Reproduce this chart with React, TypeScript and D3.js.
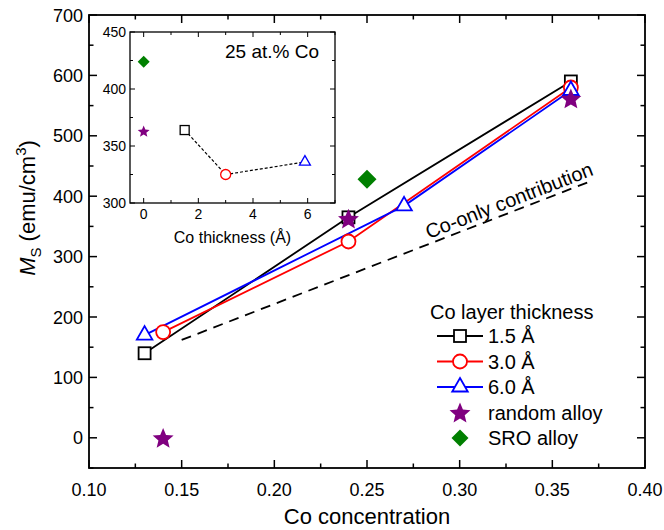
import React from "react";
import * as d3 from "d3";

// ---- data ----
const conc15 = [0.13, 0.24, 0.36];
const ms15 = [140, 365, 590];
const conc30 = [0.14, 0.24, 0.36];
const ms30 = [175, 325, 580];
const conc60 = [0.13, 0.27, 0.36];
const ms60 = [170, 384, 575];
const randomConc = [0.14, 0.24, 0.36];
const randomMs = [0, 363, 562];
const sroConc = [0.25];
const sroMs = [428];
const coOnlyConc = [0.15, 0.37];
const coOnlyMs = [162, 424];

const insetThick = [1.5, 3.0, 5.9];
const insetMs = [364, 325, 336];
const insetRandomThick = [0];
const insetRandomMs = [363];
const insetSroThick = [0];
const insetSroMs = [424];

const xTicks = [0.1, 0.15, 0.2, 0.25, 0.3, 0.35, 0.4];
const yTicks = [0, 100, 200, 300, 400, 500, 600, 700];
const insetXTicks = [0, 2, 4, 6];
const insetYTicks = [300, 350, 400, 450];

const legendLabels = ["1.5 Å", "3.0 Å", "6.0 Å", "random alloy", "SRO alloy"];

const FONT = "'Liberation Sans', Arial, sans-serif";

function starPath(R: number) {
  const r = R * 0.45;
  const pts: [number, number][] = [];
  for (let i = 0; i < 10; i++) {
    const a = -Math.PI / 2 + (i * Math.PI) / 5;
    const rad = i % 2 === 0 ? R : r;
    pts.push([rad * Math.cos(a), rad * Math.sin(a)]);
  }
  return "M" + pts.map((p) => p[0].toFixed(2) + "," + p[1].toFixed(2)).join("L") + "Z";
}
function triPath(w: number, h: number) {
  return `M0,${(-2 * h) / 3}L${w / 2},${h / 3}L${-w / 2},${h / 3}Z`;
}
function diamondPath(w: number, h: number) {
  return `M0,${-h / 2}L${w / 2},0L0,${h / 2}L${-w / 2},0Z`;
}

type MarkerKind = "square" | "circle" | "triangle" | "star" | "diamond";
function Marker({ kind, x, y, s, color, sw }: { kind: MarkerKind; x: number; y: number; s: number; color: string; sw: number }) {
  if (kind === "square")
    return <rect x={x - s / 2} y={y - s / 2} width={s} height={s} fill="white" stroke={color} strokeWidth={sw} />;
  if (kind === "circle") return <circle cx={x} cy={y} r={s / 2} fill="white" stroke={color} strokeWidth={sw} />;
  if (kind === "triangle")
    return <path d={triPath(s * 1.15, s)} transform={`translate(${x},${y})`} fill="white" stroke={color} strokeWidth={sw} />;
  if (kind === "star") return <path d={starPath(s / 2)} transform={`translate(${x},${y + s * 0.05})`} fill={color} />;
  return <path d={diamondPath(s, s)} transform={`translate(${x},${y})`} fill={color} />;
}

export default function App() {
  const W = 664, H = 530;
  const x = d3.scaleLinear().domain([0.1, 0.4]).range([89, 645]);
  const y = d3.scaleLinear().domain([-50, 700]).range([468, 15]);
  const ix = d3.scaleLinear().domain([-0.5, 7]).range([130, 335]);
  const iy = d3.scaleLinear().domain([300, 450]).range([203, 32]);

  const line = d3.line<[number, number]>().x((d) => x(d[0])).y((d) => y(d[1]));
  const iline = d3.line<[number, number]>().x((d) => ix(d[0])).y((d) => iy(d[1]));

  const series = [
    { c: conc15, m: ms15, color: "#000000", kind: "square" as MarkerKind, s: 12 },
    { c: conc30, m: ms30, color: "#ff0000", kind: "circle" as MarkerKind, s: 14 },
    { c: conc60, m: ms60, color: "#0000ff", kind: "triangle" as MarkerKind, s: 13.5 },
  ];

  const xMinor = d3.range(0.1, 0.4001, 0.025);
  const yMinor = d3.range(-50, 700.1, 50);
  const [x0, x1] = x.range();
  const [y0, y1] = y.range();

  const iXMinor = d3.range(0, 7.01, 1);
  const iYMinor = d3.range(300, 450.1, 25);
  const [ix0, ix1] = ix.range();
  const [iy0, iy1] = iy.range();

  const coPts = coOnlyConc.map((c, i) => [c, coOnlyMs[i]] as [number, number]);
  const angle = (Math.atan2(y(coOnlyMs[1]) - y(coOnlyMs[0]), x(coOnlyConc[1]) - x(coOnlyConc[0])) * 180) / Math.PI;

  const legX = 437, legY0 = 336, legDy = 25.5;
  const legKinds: MarkerKind[] = ["square", "circle", "triangle", "star", "diamond"];
  const legColors = ["#000000", "#ff0000", "#0000ff", "#800080", "#008000"];
  const legSizes = [12, 14, 13.5, 22, 17];

  return (
    <svg width={W} height={H} style={{ position: "absolute", left: 0, top: 0, background: "white" }} fontFamily={FONT}>
      <rect width={W} height={H} fill="white" />
      {/* main ticks */}
      <g stroke="black" strokeWidth={1.5}>
        {xMinor.map((t, i) => {
          const major = i % 2 === 0;
          const L = major ? 8 : 4.5;
          return (
            <g key={"xt" + i}>
              <line x1={x(t)} x2={x(t)} y1={y0} y2={y0 - L} />
              <line x1={x(t)} x2={x(t)} y1={y1} y2={y1 + L} />
            </g>
          );
        })}
        {yMinor.map((t, i) => {
          const major = t % 100 === 0;
          const L = major ? 8 : 4.5;
          return (
            <g key={"yt" + i}>
              <line x1={x0} x2={x0 + L} y1={y(t)} y2={y(t)} />
              <line x1={x1} x2={x1 - L} y1={y(t)} y2={y(t)} />
            </g>
          );
        })}
      </g>
      <rect x={x0} y={y1} width={x1 - x0} height={y0 - y1} fill="none" stroke="black" strokeWidth={1.8} />
      {xTicks.map((t) => (
        <text key={"xl" + t} x={x(t)} y={y0 + 28} textAnchor="middle" fontSize={18}>
          {d3.format(".2f")(t)}
        </text>
      ))}
      {yTicks.map((t) => (
        <text key={"yl" + t} x={x0 - 6} y={y(t) + 6.5} textAnchor="end" fontSize={18}>
          {t}
        </text>
      ))}
      <text x={(x0 + x1) / 2} y={524} textAnchor="middle" fontSize={22}>
        Co concentration
      </text>
      <text transform="translate(35,208) rotate(-90)" textAnchor="middle" fontSize={22}>
        <tspan fontStyle="italic">M</tspan>
        <tspan fontSize={15} dy={6}>S</tspan>
        <tspan dy={-6}> (emu/cm</tspan>
        <tspan fontSize={15} dy={-9}>3</tspan>
        <tspan dy={9}>)</tspan>
      </text>

      {/* Co-only dashed line */}
      <path d={line(coPts) || ""} fill="none" stroke="black" strokeWidth={1.8} strokeDasharray="10,7" />
      <text
        transform={`translate(${x(0.328)},${y(374) - 5}) rotate(${angle})`}
        textAnchor="middle"
        fontSize={20}
      >
        Co-only contribution
      </text>

      {/* series lines */}
      {series.map((s, k) => (
        <path
          key={"l" + k}
          d={line(s.c.map((c, i) => [c, s.m[i]] as [number, number])) || ""}
          fill="none"
          stroke={s.color}
          strokeWidth={1.8}
        />
      ))}
      {series.map((s, k) =>
        s.c.map((c, i) => (
          <Marker key={"m" + k + i} kind={s.kind} x={x(c)} y={y(s.m[i])} s={s.s} color={s.color} sw={1.8} />
        ))
      )}
      {randomConc.map((c, i) => (
        <Marker key={"r" + i} kind="star" x={x(c)} y={y(randomMs[i])} s={22} color="#800080" sw={0} />
      ))}
      {sroConc.map((c, i) => (
        <Marker key={"s" + i} kind="diamond" x={x(c)} y={y(sroMs[i])} s={19} color="#008000" sw={0} />
      ))}

      {/* legend */}
      <text x={430} y={319} fontSize={20}>
        Co layer thickness
      </text>
      {legLabelsRender()}

      {/* inset */}
      <rect x={ix0} y={iy1} width={ix1 - ix0} height={iy0 - iy1} fill="white" />
      <g stroke="black" strokeWidth={1}>
        {iXMinor.map((t, i) => {
          const L = t % 2 === 0 ? 5 : 3;
          return (
            <g key={"ixt" + i}>
              <line x1={ix(t)} x2={ix(t)} y1={iy0} y2={iy0 - L} />
              <line x1={ix(t)} x2={ix(t)} y1={iy1} y2={iy1 + L} />
            </g>
          );
        })}
        {iYMinor.map((t, i) => {
          const L = t % 50 === 0 ? 5 : 3;
          return (
            <g key={"iyt" + i}>
              <line x1={ix0} x2={ix0 + L} y1={iy(t)} y2={iy(t)} />
              <line x1={ix1} x2={ix1 - L} y1={iy(t)} y2={iy(t)} />
            </g>
          );
        })}
      </g>
      <rect x={ix0} y={iy1} width={ix1 - ix0} height={iy0 - iy1} fill="none" stroke="black" strokeWidth={1.3} />
      {insetXTicks.map((t) => (
        <text key={"ixl" + t} x={ix(t)} y={iy0 + 16} textAnchor="middle" fontSize={14}>
          {t}
        </text>
      ))}
      {insetYTicks.map((t) => (
        <text key={"iyl" + t} x={ix0 - 4} y={iy(t) + 5} textAnchor="end" fontSize={14}>
          {t}
        </text>
      ))}
      <text x={(ix0 + ix1) / 2} y={iy0 + 40} textAnchor="middle" fontSize={16}>
        Co thickness (Å)
      </text>
      <text x={272} y={58} textAnchor="middle" fontSize={19}>
        25 at.% Co
      </text>
      <path
        d={iline(insetThick.map((t, i) => [t, insetMs[i]] as [number, number])) || ""}
        fill="none"
        stroke="black"
        strokeWidth={1.2}
        strokeDasharray="3,2"
      />
      <Marker kind="square" x={ix(insetThick[0])} y={iy(insetMs[0])} s={9} color="#000000" sw={1.3} />
      <Marker kind="circle" x={ix(insetThick[1])} y={iy(insetMs[1])} s={10} color="#ff0000" sw={1.3} />
      <Marker kind="triangle" x={ix(insetThick[2])} y={iy(insetMs[2])} s={9.5} color="#0000ff" sw={1.3} />
      {insetRandomThick.map((t, i) => (
        <Marker key={"ir" + i} kind="star" x={ix(t)} y={iy(insetRandomMs[i])} s={12.5} color="#800080" sw={0} />
      ))}
      {insetSroThick.map((t, i) => (
        <Marker key={"is" + i} kind="diamond" x={ix(t)} y={iy(insetSroMs[i])} s={12} color="#008000" sw={0} />
      ))}
    </svg>
  );

  function legLabelsRender() {
    return legendLabels.map((lab, i) => {
      const yy = legY0 + i * legDy;
      const hasLine = i < 3;
      return (
        <g key={"leg" + i}>
          {hasLine && <line x1={legX} x2={legX + 46} y1={yy} y2={yy} stroke={legColors[i]} strokeWidth={1.8} />}
          <Marker kind={legKinds[i]} x={legX + 23} y={yy} s={legSizes[i]} color={legColors[i]} sw={1.8} />
          <text x={488} y={yy + 7} fontSize={20}>
            {lab}
          </text>
        </g>
      );
    });
  }
}
